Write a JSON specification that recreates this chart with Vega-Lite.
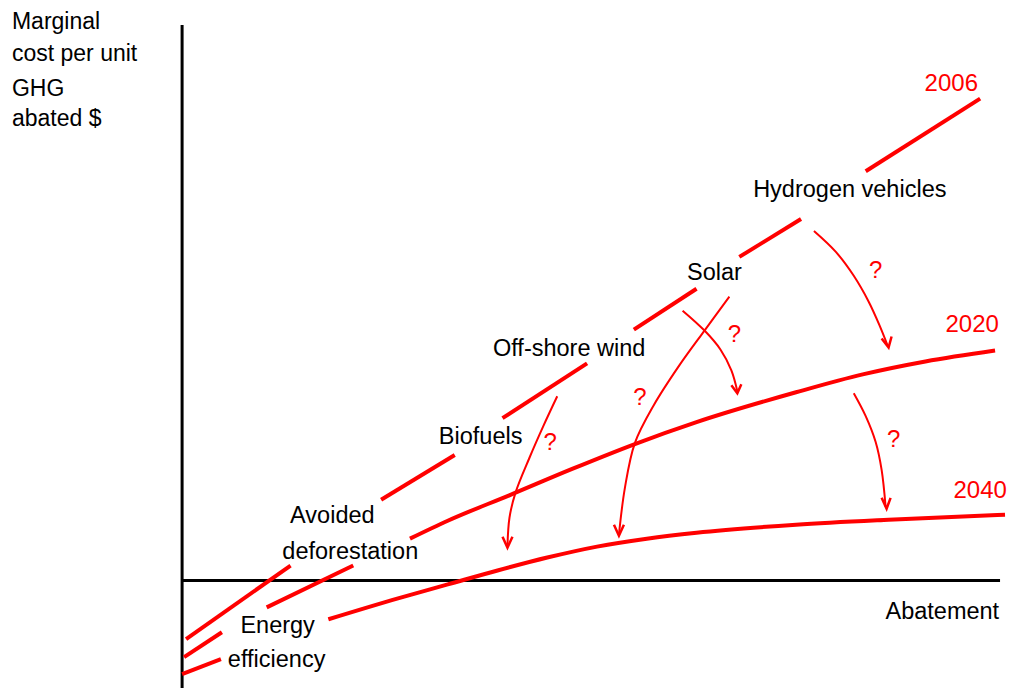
{
  "$schema": "https://vega.github.io/schema/vega-lite/v6.json",
  "width": 1013,
  "height": 690,
  "autosize": {"type": "fit", "contains": "padding"},
  "padding": 0,
  "background": "white",
  "config": {"view": {"stroke": null}},
  "datasets": {
    "axes": [
      {"a": 0, "c": -108, "a2": 0, "c2": 558},
      {"a": 0, "c": 0, "a2": 822, "c2": 0}
    ],
    "curves": [
      {"s": "2006-1", "i": 0, "a": 4, "c": -59}, {"s": "2006-1", "i": 1, "a": 109, "c": 15},
      {"s": "2006-2", "i": 0, "a": 200, "c": 81}, {"s": "2006-2", "i": 1, "a": 274, "c": 126},
      {"s": "2006-3", "i": 0, "a": 322, "c": 163}, {"s": "2006-3", "i": 1, "a": 407, "c": 218},
      {"s": "2006-4", "i": 0, "a": 454, "c": 252}, {"s": "2006-4", "i": 1, "a": 517, "c": 293},
      {"s": "2006-5", "i": 0, "a": 560, "c": 325}, {"s": "2006-5", "i": 1, "a": 622, "c": 363},
      {"s": "2006-6", "i": 0, "a": 687, "c": 411}, {"s": "2006-6", "i": 1, "a": 802, "c": 484},
      {"s": "2020-1", "i": 0, "a": 2, "c": -77}, {"s": "2020-1", "i": 1, "a": 40, "c": -52},
      {"s": "2020-2", "i": 0, "a": 85, "c": -27}, {"s": "2020-2", "i": 1, "a": 172, "c": 15},
      {"s": "2020-3", "i": 0, "a": 229, "c": 42}, {"s": "2020-3", "i": 1, "a": 267, "c": 60},
      {"s": "2020-3", "i": 2, "a": 330, "c": 86}, {"s": "2020-3", "i": 3, "a": 392, "c": 112},
      {"s": "2020-3", "i": 4, "a": 455, "c": 137}, {"s": "2020-3", "i": 5, "a": 517, "c": 159},
      {"s": "2020-3", "i": 6, "a": 617, "c": 189}, {"s": "2020-3", "i": 7, "a": 684, "c": 207},
      {"s": "2020-3", "i": 8, "a": 747, "c": 220}, {"s": "2020-3", "i": 9, "a": 817, "c": 231},
      {"s": "2040-1", "i": 0, "a": 0, "c": -94}, {"s": "2040-1", "i": 1, "a": 39, "c": -79},
      {"s": "2040-2", "i": 0, "a": 147, "c": -39}, {"s": "2040-2", "i": 1, "a": 217, "c": -18},
      {"s": "2040-2", "i": 2, "a": 267, "c": -4}, {"s": "2040-2", "i": 3, "a": 317, "c": 10},
      {"s": "2040-2", "i": 4, "a": 367, "c": 23}, {"s": "2040-2", "i": 5, "a": 417, "c": 34},
      {"s": "2040-2", "i": 6, "a": 467, "c": 42}, {"s": "2040-2", "i": 7, "a": 517, "c": 48},
      {"s": "2040-2", "i": 8, "a": 617, "c": 56}, {"s": "2040-2", "i": 9, "a": 710, "c": 61},
      {"s": "2040-2", "i": 10, "a": 827, "c": 66}
    ],
    "arrows": [
      {"s": "A1", "i": 0, "a": 377, "c": 185}, {"s": "A1", "i": 1, "a": 363, "c": 155},
      {"s": "A1", "i": 2, "a": 349, "c": 123}, {"s": "A1", "i": 3, "a": 335, "c": 88},
      {"s": "A1", "i": 4, "a": 329, "c": 63}, {"s": "A1", "i": 5, "a": 327, "c": 35},
      {"s": "A2", "i": 0, "a": 550, "c": 285}, {"s": "A2", "i": 1, "a": 525, "c": 251},
      {"s": "A2", "i": 2, "a": 499, "c": 215}, {"s": "A2", "i": 3, "a": 474, "c": 176},
      {"s": "A2", "i": 4, "a": 455, "c": 138}, {"s": "A2", "i": 5, "a": 445, "c": 93},
      {"s": "A2", "i": 6, "a": 439, "c": 46},
      {"s": "A3", "i": 0, "a": 503, "c": 271}, {"s": "A3", "i": 1, "a": 525, "c": 251},
      {"s": "A3", "i": 2, "a": 541, "c": 232}, {"s": "A3", "i": 3, "a": 552, "c": 211},
      {"s": "A3", "i": 4, "a": 558, "c": 190},
      {"s": "A4", "i": 0, "a": 635, "c": 351}, {"s": "A4", "i": 1, "a": 657, "c": 330},
      {"s": "A4", "i": 2, "a": 675, "c": 306}, {"s": "A4", "i": 3, "a": 690, "c": 280},
      {"s": "A4", "i": 4, "a": 701, "c": 256}, {"s": "A4", "i": 5, "a": 709, "c": 236},
      {"s": "A5", "i": 0, "a": 675, "c": 188}, {"s": "A5", "i": 1, "a": 687, "c": 165},
      {"s": "A5", "i": 2, "a": 697, "c": 139}, {"s": "A5", "i": 3, "a": 703, "c": 111},
      {"s": "A5", "i": 4, "a": 707, "c": 74}
    ],
    "heads": [
      {"s": "H1", "i": 0, "a": 322, "c": 44}, {"s": "H1", "i": 1, "a": 327, "c": 33}, {"s": "H1", "i": 2, "a": 332, "c": 44},
      {"s": "H2", "i": 0, "a": 434, "c": 56}, {"s": "H2", "i": 1, "a": 439, "c": 45}, {"s": "H2", "i": 2, "a": 444, "c": 56},
      {"s": "H3", "i": 0, "a": 552, "c": 196}, {"s": "H3", "i": 1, "a": 558, "c": 188}, {"s": "H3", "i": 2, "a": 562, "c": 197},
      {"s": "H4", "i": 0, "a": 703, "c": 243}, {"s": "H4", "i": 1, "a": 710, "c": 234}, {"s": "H4", "i": 2, "a": 713, "c": 245},
      {"s": "H5", "i": 0, "a": 703, "c": 83}, {"s": "H5", "i": 1, "a": 708, "c": 72}, {"s": "H5", "i": 2, "a": 712, "c": 83}
    ],
    "titles": [
      {"t": "Marginal", "a": -171, "c": 561},
      {"t": "cost per unit", "a": -171, "c": 529},
      {"t": "GHG", "a": -171, "c": 494},
      {"t": "abated  $", "a": -171, "c": 463}
    ],
    "labels": [
      {"t": "Hydrogen vehicles", "a": 671, "c": 392},
      {"t": "Solar", "a": 535, "c": 309},
      {"t": "Off-shore wind", "a": 389, "c": 232},
      {"t": "Biofuels", "a": 300, "c": 144},
      {"t": "Avoided", "a": 151, "c": 65},
      {"t": "deforestation", "a": 169, "c": 29},
      {"t": "Energy", "a": 96, "c": -46},
      {"t": "efficiency", "a": 95, "c": -80},
      {"t": "Abatement", "a": 764, "c": -32}
    ],
    "years": [
      {"t": "2006", "a": 773, "c": 499},
      {"t": "2020", "a": 794, "c": 257},
      {"t": "2040", "a": 802, "c": 90}
    ],
    "questions": [
      {"t": "?", "a": 370, "c": 138},
      {"t": "?", "a": 460, "c": 183},
      {"t": "?", "a": 555, "c": 247},
      {"t": "?", "a": 697, "c": 311},
      {"t": "?", "a": 715, "c": 141}
    ]
  },
  "layer": [
    {
      "data": {"name": "axes"},
      "mark": {"type": "rule", "color": "black", "strokeWidth": 3},
      "encoding": {
        "x": {"field": "a", "type": "quantitative", "scale": {"domain": [-183, 830], "nice": false, "zero": false}, "axis": null},
        "y": {"field": "c", "type": "quantitative", "scale": {"domain": [-107, 583], "nice": false, "zero": false}, "axis": null},
        "x2": {"field": "a2"},
        "y2": {"field": "c2"}
      }
    },
    {
      "data": {"name": "curves"},
      "mark": {"type": "line", "color": "#ff0000", "strokeWidth": 4, "interpolate": "monotone"},
      "encoding": {
        "x": {"field": "a", "type": "quantitative", "axis": null},
        "y": {"field": "c", "type": "quantitative", "axis": null},
        "detail": {"field": "s"},
        "order": {"field": "i", "type": "quantitative"}
      }
    },
    {
      "data": {"name": "arrows"},
      "mark": {"type": "line", "color": "#ff0000", "strokeWidth": 2, "interpolate": "catmull-rom"},
      "encoding": {
        "x": {"field": "a", "type": "quantitative", "axis": null},
        "y": {"field": "c", "type": "quantitative", "axis": null},
        "detail": {"field": "s"},
        "order": {"field": "i", "type": "quantitative"}
      }
    },
    {
      "data": {"name": "heads"},
      "mark": {"type": "line", "color": "#ff0000", "strokeWidth": 2.5},
      "encoding": {
        "x": {"field": "a", "type": "quantitative", "axis": null},
        "y": {"field": "c", "type": "quantitative", "axis": null},
        "detail": {"field": "s"},
        "order": {"field": "i", "type": "quantitative"}
      }
    },
    {
      "data": {"name": "titles"},
      "mark": {"type": "text", "align": "left", "baseline": "middle", "font": "Liberation Sans", "fontSize": 23, "color": "black"},
      "encoding": {
        "x": {"field": "a", "type": "quantitative", "axis": null},
        "y": {"field": "c", "type": "quantitative", "axis": null},
        "text": {"field": "t"}
      }
    },
    {
      "data": {"name": "labels"},
      "mark": {"type": "text", "align": "center", "baseline": "middle", "font": "Liberation Sans", "fontSize": 23.5, "color": "black"},
      "encoding": {
        "x": {"field": "a", "type": "quantitative", "axis": null},
        "y": {"field": "c", "type": "quantitative", "axis": null},
        "text": {"field": "t"}
      }
    },
    {
      "data": {"name": "years"},
      "mark": {"type": "text", "align": "center", "baseline": "middle", "font": "Liberation Sans", "fontSize": 24, "color": "#ff0000"},
      "encoding": {
        "x": {"field": "a", "type": "quantitative", "axis": null},
        "y": {"field": "c", "type": "quantitative", "axis": null},
        "text": {"field": "t"}
      }
    },
    {
      "data": {"name": "questions"},
      "mark": {"type": "text", "align": "center", "baseline": "middle", "font": "Liberation Sans", "fontSize": 24, "color": "#ff0000"},
      "encoding": {
        "x": {"field": "a", "type": "quantitative", "axis": null},
        "y": {"field": "c", "type": "quantitative", "axis": null},
        "text": {"field": "t"}
      }
    }
  ]
}
